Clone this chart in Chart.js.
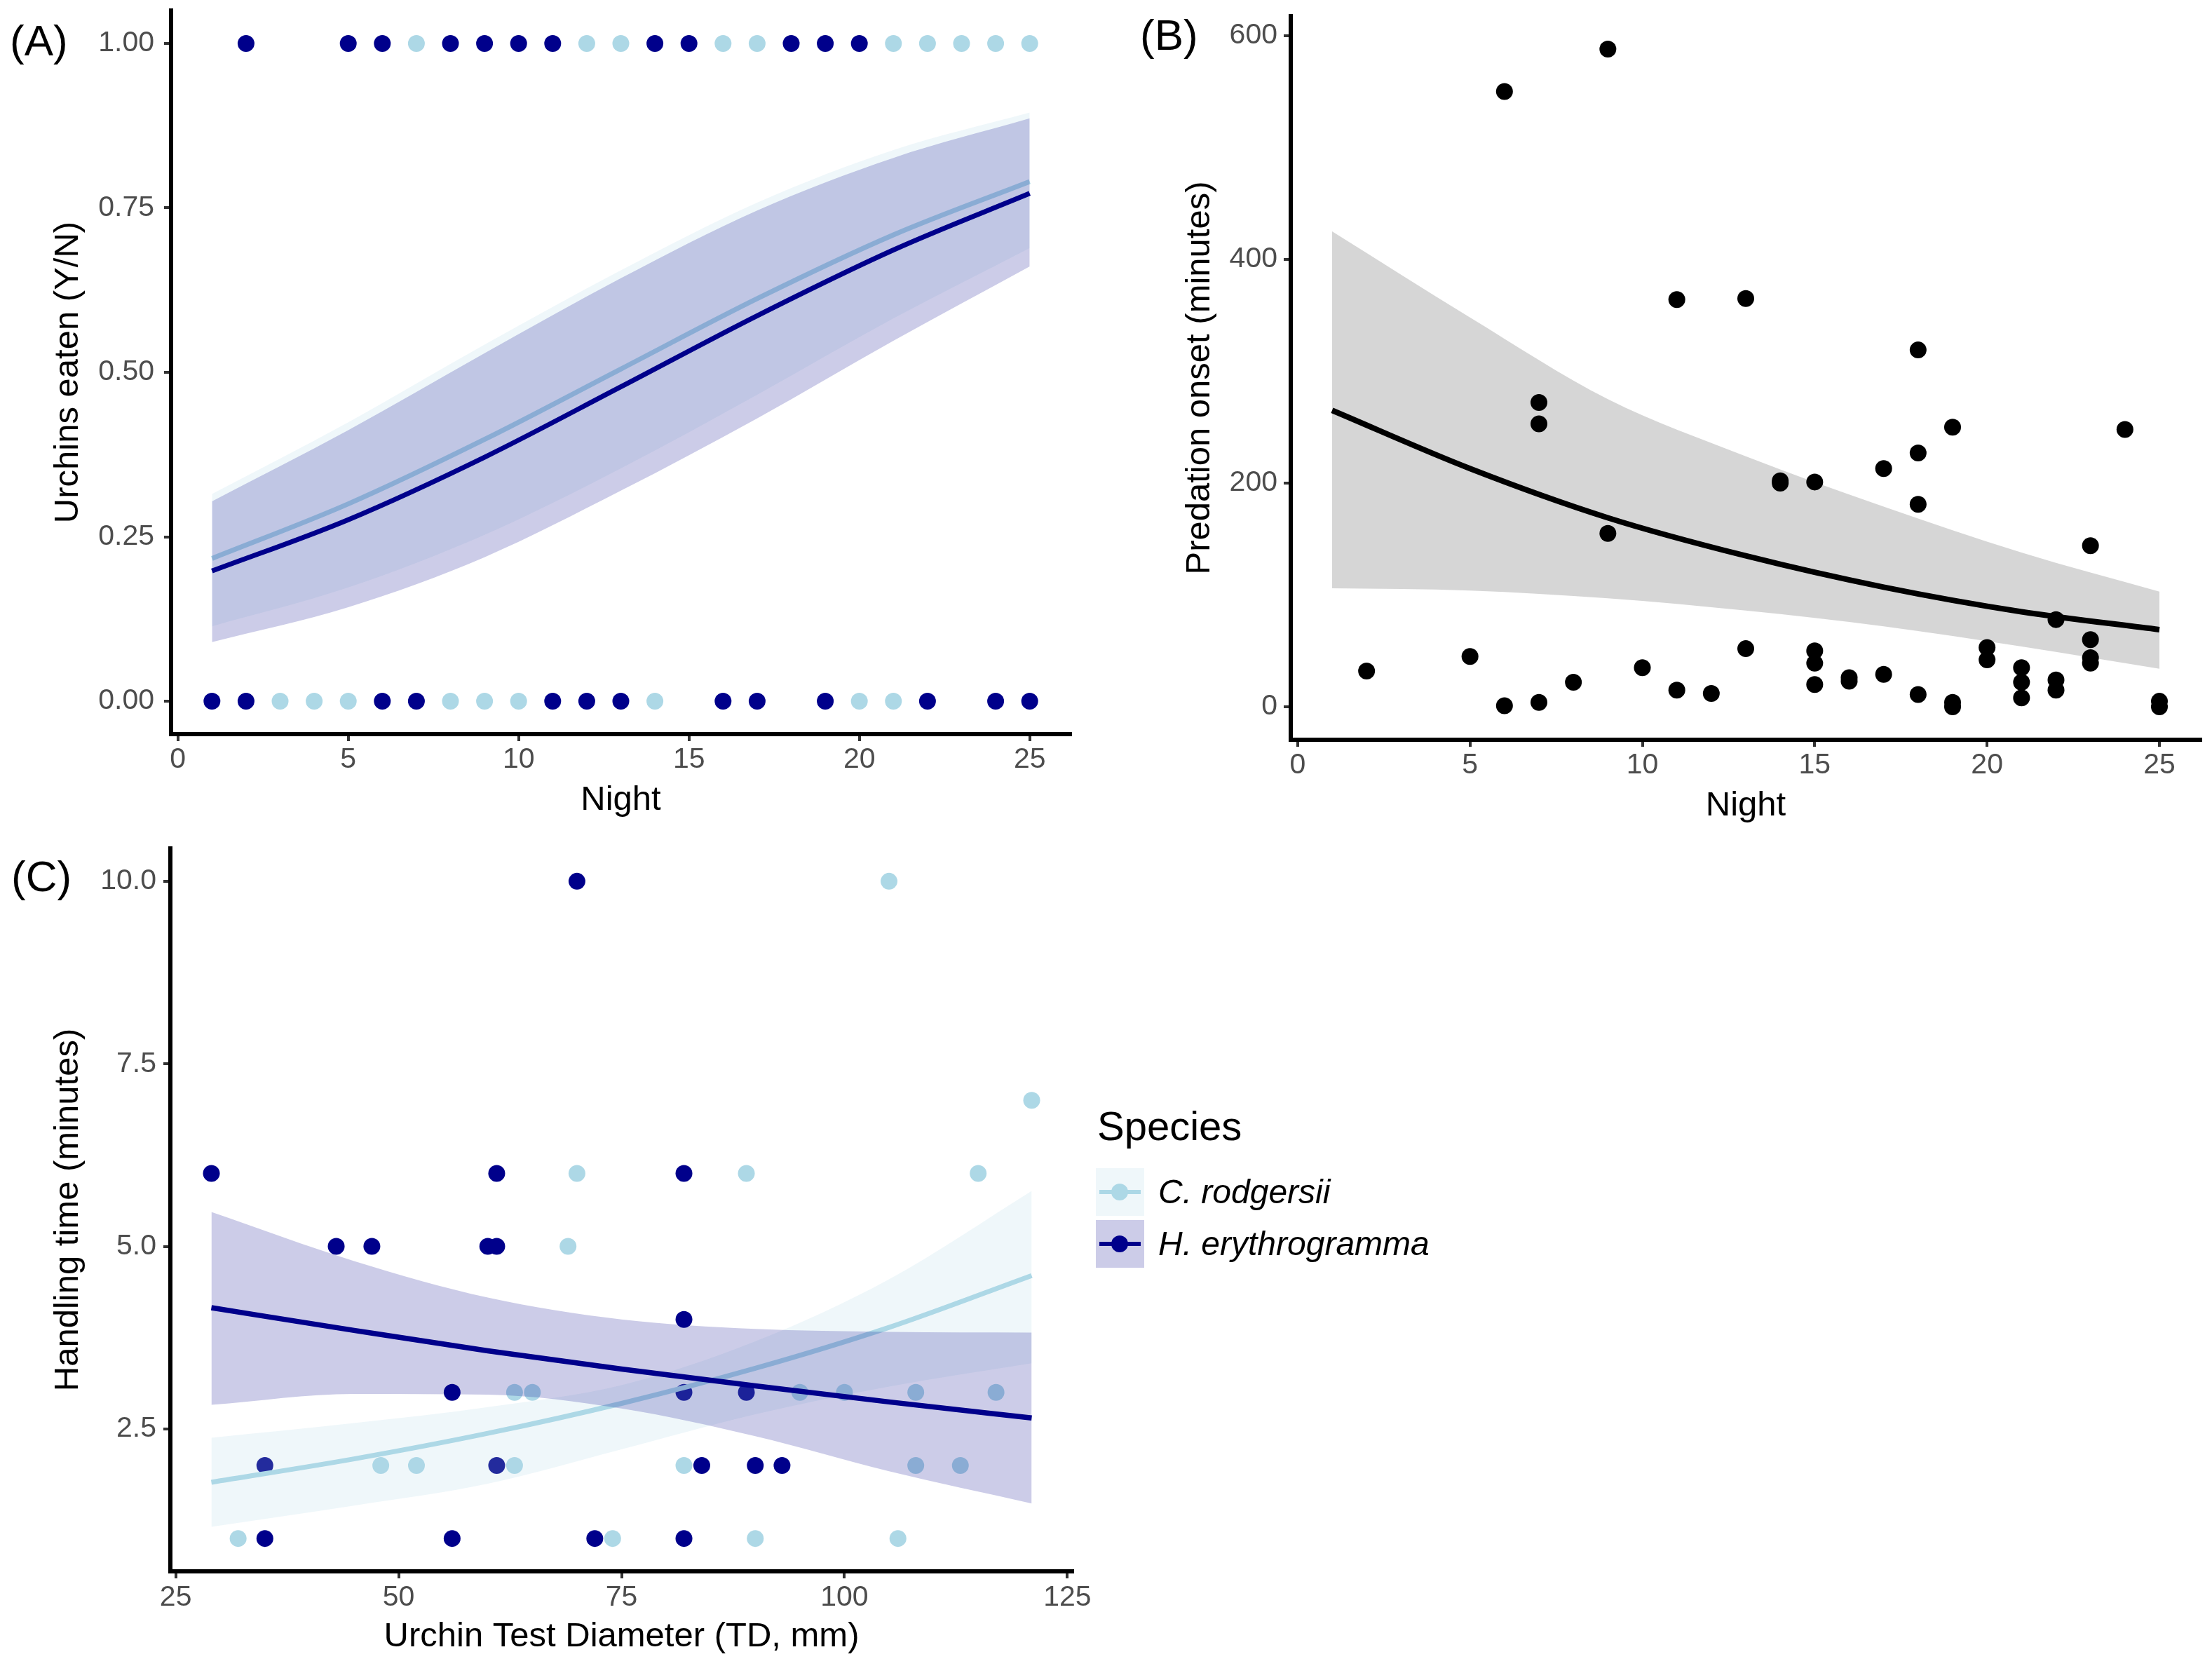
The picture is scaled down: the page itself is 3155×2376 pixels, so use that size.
<!DOCTYPE html>
<html lang="en">
<head>
<meta charset="UTF-8">
<title>Urchin predation</title>
<script src="https://cdn.jsdelivr.net/npm/chart.js@4.4.1/dist/chart.umd.min.js"></script>
<style>
  html, body { margin: 0; padding: 0; background: #fff; }
  body { width: 3155px; height: 2376px; position: relative; overflow: hidden;
         font-family: "Liberation Sans", Arial, sans-serif; }
  .panel { position: absolute; }
  .tag { position: absolute; font-size: 62px; line-height: 62px; color: #000; }
  .lg-title { position: absolute; left: 1565px; top: 1577px; font-size: 58px; line-height: 58px; }
  .key { position: absolute; left: 1563px; width: 69px; height: 68px; }
  .key i { position: absolute; left: 5px; right: 5px; top: 31px; height: 6px; }
  .key b { position: absolute; left: 22px; top: 22px; width: 24px; height: 24px; border-radius: 50%; }
  .lbl { position: absolute; left: 1652px; font-size: 48px; line-height: 48px; font-style: italic; }
</style>
</head>
<body>

<div class="panel" style="left:0; top:0; width:1580px; height:1190px;"><canvas id="chartA"></canvas></div>
<div class="panel" style="left:1580px; top:0; width:1575px; height:1190px;"><canvas id="chartB"></canvas></div>
<div class="panel" style="left:0; top:1190px; width:1580px; height:1186px;"><canvas id="chartC"></canvas></div>

<div class="tag" style="left:14px; top:27px;">(A)</div>
<div class="tag" style="left:1626px; top:19px;">(B)</div>
<div class="tag" style="left:16px; top:1219px;">(C)</div>

<!-- legend -->
<div class="lg-title">Species</div>
<div class="key" style="top:1666px; background:rgba(173,216,230,0.2);"><i style="background:#ADD8E6"></i><b style="background:#ADD8E6"></b></div>
<div class="lbl" style="top:1676px;">C. rodgersii</div>
<div class="key" style="top:1740px; background:rgba(0,0,139,0.2);"><i style="background:#00008B"></i><b style="background:#00008B"></b></div>
<div class="lbl" style="top:1750px;">H. erythrogramma</div>

<script>
// ---- panel A: urchins eaten (1) / not eaten (0) per night ----
const nightC1 = [7, 12, 13, 16, 17, 21, 22, 23, 24, 25];
const nightC0 = [3, 4, 5, 8, 9, 10, 14, 20, 21];
const nightH1 = [2, 5, 6, 8, 9, 10, 11, 14, 15, 18, 19, 20];
const nightH0 = [1, 2, 6, 7, 11, 12, 13, 16, 17, 19, 22, 24, 25];

// logistic fits
const fitNight = [1, 5, 9, 13, 17, 21, 25];
const eatC   = [0.217, 0.300, 0.398, 0.505, 0.612, 0.709, 0.790];
const eatCLo = [0.114, 0.173, 0.253, 0.354, 0.466, 0.582, 0.689];
const eatCHi = [0.315, 0.424, 0.542, 0.655, 0.758, 0.838, 0.895];
const eatH   = [0.198, 0.276, 0.371, 0.478, 0.586, 0.686, 0.772];
const eatHLo = [0.090, 0.143, 0.219, 0.320, 0.430, 0.548, 0.661];
const eatHHi = [0.304, 0.412, 0.529, 0.643, 0.746, 0.826, 0.886];

// ---- panel B: predation onset ----
const onsetNight = [2, 5, 6, 6, 7, 7, 7, 8, 9, 9, 10, 11, 11, 12, 13, 13, 14, 14, 15, 15, 15, 15,
  16, 16, 17, 17, 18, 18, 18, 18, 19, 19, 19, 20, 20, 21, 21, 21, 22, 22, 22, 23, 23, 23, 23, 24, 25, 25];
const onsetMin = [32, 45, 1, 550, 4, 272, 253, 22, 588, 155, 35, 364, 15, 12, 365, 52, 202, 200, 201, 50, 39, 20,
  26, 23, 213, 29, 319, 227, 181, 11, 250, 4, 0, 53, 42, 35, 22, 8, 78, 24, 15, 144, 60, 44, 39, 248, 5, 0];
const onsetFit   = [265, 213, 169, 135, 107, 85, 69];
const onsetFitLo = [106, 104, 97, 86, 72, 54, 34];
const onsetFitHi = [425, 348, 275, 224, 179, 138, 103];

// ---- panel C: handling time vs test diameter ----
const tdH = [29, 70, 43, 47, 60, 61, 61, 82, 82, 56, 82, 89, 35, 61, 84, 90, 93, 35, 56, 72, 82];
const htH = [6, 10, 5, 5, 5, 5, 6, 6, 4, 3, 3, 3, 2, 2, 2, 2, 2, 1, 1, 1, 1];
const tdC = [105, 121, 70, 89, 115, 69, 63, 65, 95, 100, 108, 117, 48, 52, 63, 82, 108, 113, 32, 74, 90, 106];
const htC = [10, 7, 6, 6, 6, 5, 3, 3, 3, 3, 3, 3, 2, 2, 2, 2, 2, 2, 1, 1, 1, 1];
const fitTD = [29, 45, 60, 75, 90, 105, 121];
const hdlC   = [1.77, 2.09, 2.44, 2.85, 3.33, 3.89, 4.60];
const hdlCLo = [1.16, 1.45, 1.75, 2.22, 2.70, 3.08, 3.40];
const hdlCHi = [2.38, 2.58, 2.80, 3.10, 3.70, 4.55, 5.76];
const hdlH   = [4.16, 3.85, 3.57, 3.32, 3.09, 2.87, 2.65];
const hdlHLo = [2.83, 2.98, 2.97, 2.78, 2.40, 1.92, 1.48];
const hdlHHi = [5.47, 4.80, 4.30, 4.00, 3.87, 3.83, 3.82];

const nightTicks = [0, 5, 10, 15, 20, 25];
const eatTicks = [0, 0.25, 0.5, 0.75, 1];
const onsetTicks = [0, 200, 400, 600];
const tdTicks = [25, 50, 75, 100, 125];
const hdlTicks = [2.5, 5, 7.5, 10];

const LIGHT = '#ADD8E6';
const DARK = '#00008B';
const LIGHT_FILL = 'rgba(173,216,230,0.2)';
const DARK_FILL = 'rgba(0,0,139,0.2)';
const FONT = '"Liberation Sans", Arial, sans-serif';

Chart.defaults.font.family = FONT;

function pts(xs, ys) {
    return xs.map((x, i) => ({ x: x, y: ys[i] }));
}

function dots(data, color, order) {
    return { data: data, showLine: false, pointRadius: 12, pointHoverRadius: 12,
             pointBackgroundColor: color, pointBorderWidth: 0, order: order };
}

function curve(data, color, width, order) {
    return { data: data, borderColor: color, borderWidth: width, pointRadius: 0,
             cubicInterpolationMode: 'monotone', fill: false, order: order };
}

// lower edge of a ribbon (invisible), upper edge fills down to it
function ribbon(lo, hi, fillColor, order) {
    return [
        { data: lo, borderWidth: 0, borderColor: 'transparent', pointRadius: 0,
          cubicInterpolationMode: 'monotone', fill: false, order: order },
        { data: hi, borderWidth: 0, borderColor: 'transparent', pointRadius: 0,
          cubicInterpolationMode: 'monotone', fill: '-1', backgroundColor: fillColor, order: order }
    ];
}

function axis(o) {
    return {
        type: 'linear', min: o.min, max: o.max,
        afterBuildTicks: s => { s.ticks = o.ticks.map(v => ({ value: v })); },
        afterFit: s => {
            if (s.isHorizontal()) s.height = o.size; else s.width = o.size;
            s.paddingTop = s.paddingBottom = s.paddingLeft = s.paddingRight = 0;
        },
        grid: { drawOnChartArea: false, drawTicks: true, tickLength: 10, tickWidth: 4,
                lineWidth: 4, tickColor: '#333333' },
        border: { display: true, color: '#000000', width: 6 },
        ticks: { color: '#4d4d4d', font: { size: 41 }, padding: o.pad, autoSkip: false,
                 maxRotation: 0, callback: v => o.fmt ? o.fmt(v) : String(v) },
        title: { display: true, text: o.title, color: '#000000', font: { size: 49 },
                 padding: o.titlePad }
    };
}

function baseOptions(pad, xAxis, yAxis) {
    return {
        responsive: true, maintainAspectRatio: false, animation: false, devicePixelRatio: 1,
        layout: { padding: pad },
        plugins: { legend: { display: false }, tooltip: { enabled: false } },
        scales: { x: xAxis, y: yAxis }
    };
}

// (A)
new Chart(document.getElementById('chartA'), {
    type: 'line',
    data: {
        datasets: [
            dots(pts(nightH1, nightH1.map(() => 1)).concat(pts(nightH0, nightH0.map(() => 0))), DARK, 10),
            dots(pts(nightC1, nightC1.map(() => 1)).concat(pts(nightC0, nightC0.map(() => 0))), LIGHT, 9),
            ...ribbon(pts(fitNight, eatCLo), pts(fitNight, eatCHi), LIGHT_FILL, 8),
            curve(pts(fitNight, eatC), LIGHT, 7, 7),
            ...ribbon(pts(fitNight, eatHLo), pts(fitNight, eatHHi), DARK_FILL, 6),
            curve(pts(fitNight, eatH), DARK, 7, 5)
        ]
    },
    options: baseOptions({ left: 0, top: 15, right: 53, bottom: 0 },
        axis({ min: -0.2, max: 26.2, ticks: nightTicks, size: 143, pad: 2,
               title: 'Night', titlePad: { top: 0, bottom: 19.6 } }),
        axis({ min: -0.05, max: 1.05, ticks: eatTicks, size: 244, pad: 14,
               fmt: v => v.toFixed(2), title: 'Urchins eaten (Y/N)', titlePad: { top: 67.6, bottom: 0 } }))
});

// (B)
new Chart(document.getElementById('chartB'), {
    type: 'line',
    data: {
        datasets: [
            ...ribbon(pts(fitNight, onsetFitLo), pts(fitNight, onsetFitHi), 'rgba(153,153,153,0.4)', 5),
            curve(pts(fitNight, onsetFit), '#000000', 8, 4),
            dots(pts(onsetNight, onsetMin), '#000000', 3)
        ]
    },
    options: baseOptions({ left: 0, top: 23, right: 16, bottom: 0 },
        axis({ min: -0.2, max: 26.2, ticks: nightTicks, size: 135, pad: 2,
               title: 'Night', titlePad: { top: 0, bottom: 11.6 } }),
        axis({ min: -29.4, max: 617.4, ticks: onsetTicks, size: 261, pad: 9,
               title: 'Predation onset (minutes)', titlePad: { top: 101.6, bottom: 0 } }))
});

// (C)
new Chart(document.getElementById('chartC'), {
    type: 'line',
    data: {
        datasets: [
            dots(pts(tdH, htH), DARK, 10),
            dots(pts(tdC, htC), LIGHT, 9),
            ...ribbon(pts(fitTD, hdlCLo), pts(fitTD, hdlCHi), LIGHT_FILL, 8),
            curve(pts(fitTD, hdlC), LIGHT, 7, 7),
            ...ribbon(pts(fitTD, hdlHLo), pts(fitTD, hdlHHi), DARK_FILL, 6),
            curve(pts(fitTD, hdlH), DARK, 7.5, 5)
        ]
    },
    options: baseOptions({ left: 0, top: 20, right: 50, bottom: 0 },
        axis({ min: 24.4, max: 125.6, ticks: tdTicks, size: 135, pad: 3,
               title: 'Urchin Test Diameter (TD, mm)', titlePad: { top: 0, bottom: 12.6 } }),
        axis({ min: 0.55, max: 10.45, ticks: hdlTicks, size: 243, pad: 10,
               fmt: v => v.toFixed(1), title: 'Handling time (minutes)', titlePad: { top: 67.6, bottom: 0 } }))
});
</script>
</body>
</html>
